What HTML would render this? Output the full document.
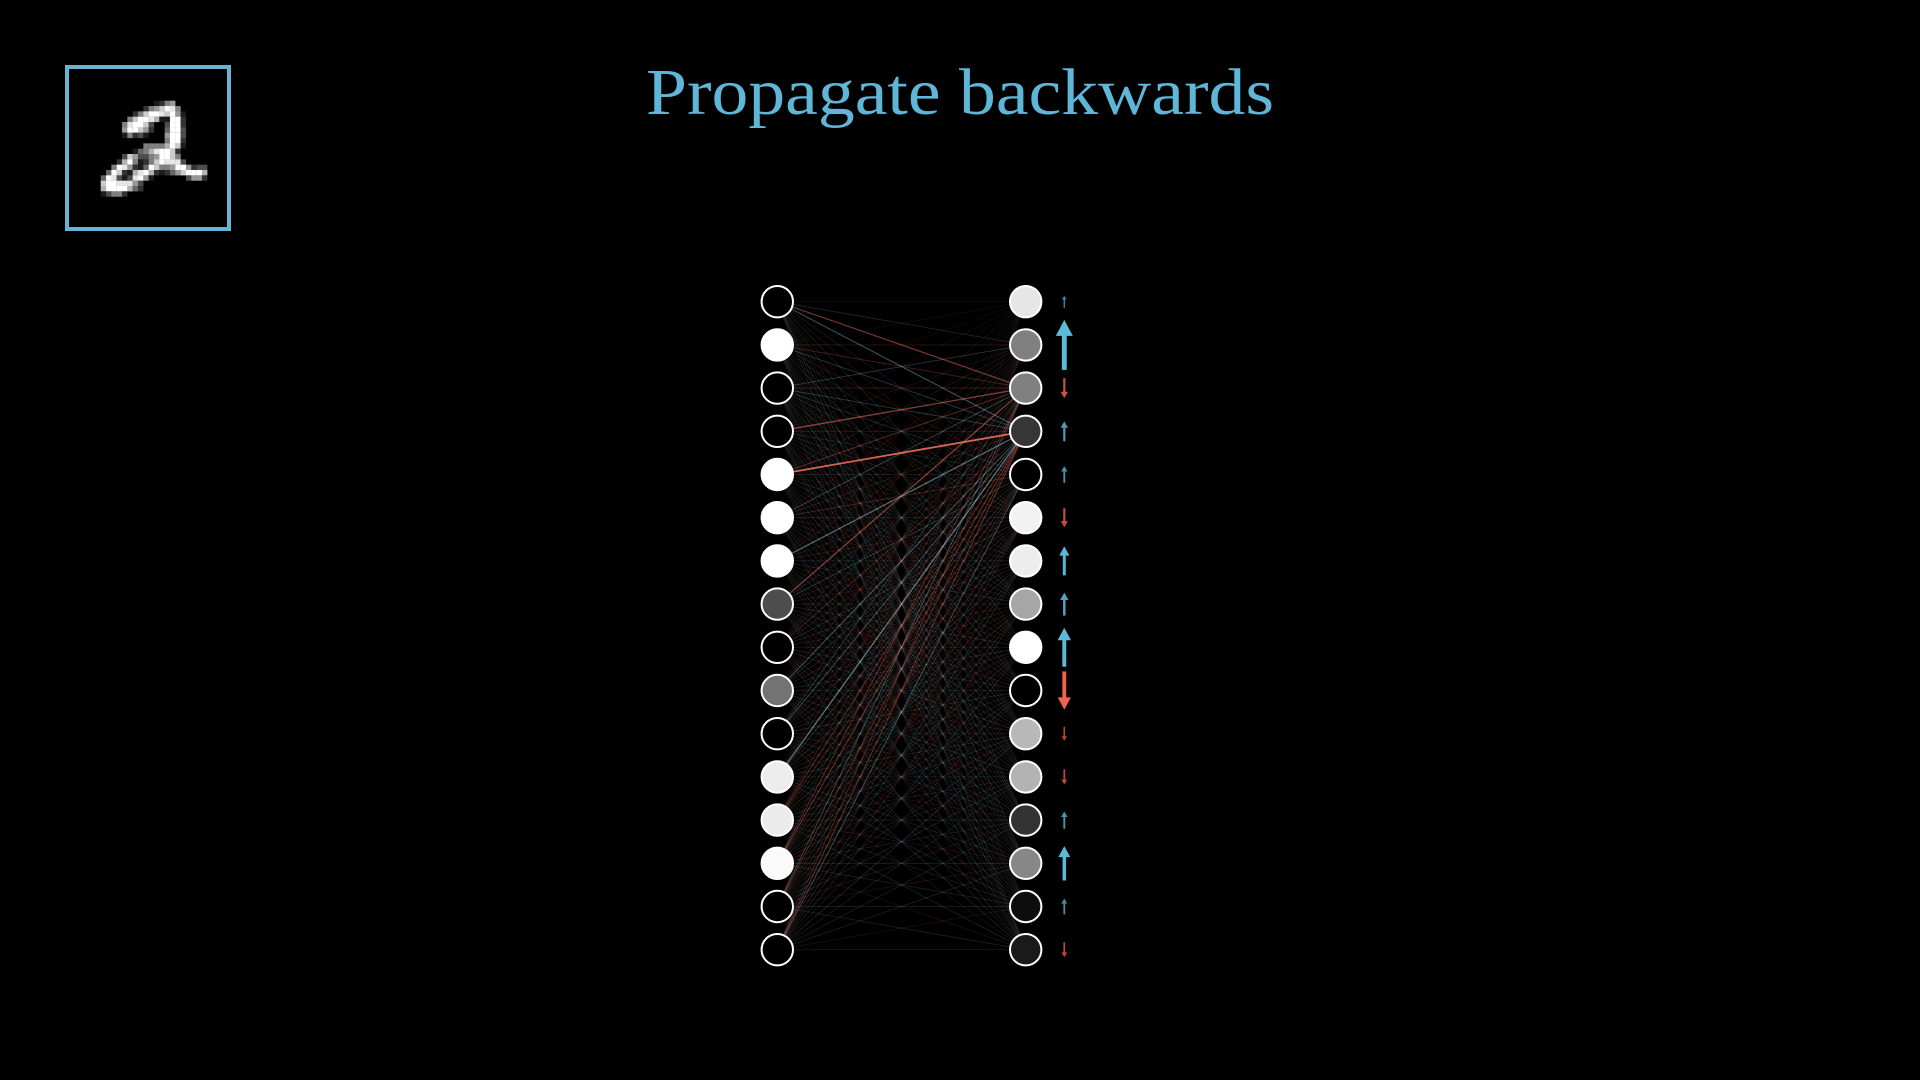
<!DOCTYPE html>
<html lang="en">
<head>
<meta charset="utf-8">
<title>Propagate backwards</title>
<style>
html,body{margin:0;padding:0;background:#000;width:1920px;height:1080px;overflow:hidden}
svg{display:block;position:absolute;left:0;top:0}
</style>
</head>
<body>
<svg id="stage" xmlns="http://www.w3.org/2000/svg" width="1920" height="1080" viewBox="0 0 1920 1080">
  <defs>
    <filter id="soft" x="-5%" y="-5%" width="110%" height="110%"><feGaussianBlur stdDeviation="0.35"/></filter>
  </defs>
  <rect x="0" y="0" width="1920" height="1080" fill="#000"/>
  <text x="646" y="114" font-family="'Liberation Serif', serif" font-size="66" fill="#5fb6d6" textLength="628" lengthAdjust="spacingAndGlyphs">Propagate backwards</text>
  <g id="digit" filter="url(#soft)"></g>
  <rect x="67" y="67" width="162" height="162" fill="none" stroke="#67b3d1" stroke-width="4"/>
  <g id="edges"></g>
  <g id="leftNodes"></g>
  <g id="rightNodes"></g>
  <g id="arrows"></g>
</svg>
<script>
// Neuron activations (0 = black, 1 = white)
const leftActivations = [0, 1, 0, 0, 1, 1, 1, 0.3, 0, 0.45, 0, 0.93, 0.92, 0.98, 0, 0];
const rightActivations = [0.9, 0.5, 0.5, 0.21, 0, 0.95, 0.93, 0.65, 1, 0, 0.72, 0.7, 0.2, 0.53, 0.05, 0.1];
// Desired nudge per right-layer neuron (positive = up/blue, negative = down/red)
const gradients = [12, 50, -20, 20, 16.7, -19, 29, 23, 39, -38.3, -14, -15.3, 17.3, 34.3, 15.7, -15];
// Connection weights in percent: one row per left neuron, one column per right neuron
const weights = [
  [-2, 14, -45, 34, 8, -9, 9, -7, 10, -8, 6, -9, 10, 12, -6, 8],
  [2, -14, -22, 20, -11, 9, -9, 12, -7, 9, -12, 8, 10, -9, 7, 9],
  [-2, 20, -18, 22, 16, 11, -11, 12, -9, 14, 10, -8, 12, 9, -7, 10],
  [2, -8, -52, -14, 12, -14, 9, 10, -12, -9, 14, 8, -10, 11, 9, -6],
  [-2, 7, -30, -88, 13, -9, 12, 10, -8, -13, 9, 12, -9, 10, -7, 8],
  [3, -9, 26, -14, -24, 12, -10, -13, 9, 11, -10, 9, 12, -8, 9, 11],
  [-2, 7, -12, 46, -12, -14, 11, 12, -10, -9, 13, -11, 9, 12, -9, 8],
  [2, -9, -50, 12, 20, -11, -13, 10, 12, -14, 9, 11, -10, 9, 12, -8],
  [-2, 8, 12, -24, -12, 14, 11, -12, -10, 11, 13, -9, 12, 10, -8, 11],
  [2, -7, -14, 34, 14, -11, -14, 9, 12, 10, -12, 13, 9, -11, 10, 9],
  [-2, 9, 20, 30, -14, 12, -11, -12, 10, 13, 9, -12, 11, 9, -10, 12],
  [2, -9, -14, 52, 18, -10, 13, -11, -12, 9, 12, 10, -9, 12, 11, -8],
  [-2, -8, -18, -32, -24, 13, -12, 14, -10, -11, 12, 9, 12, -10, 9, 11],
  [2, 9, -30, -36, 14, -20, 12, -11, 13, 10, -13, -10, 9, 12, 11, -9],
  [-2, -9, 28, -30, -18, 14, -15, 12, -10, 12, 9, 11, -12, -9, 12, 10],
  [2, 8, -24, -34, 30, -14, 12, -15, 11, -10, 13, 9, 10, 11, -9, 8]
];
// 20×18 crop of the handwritten digit; each character is brightness in tenths (a = full)
const digitRows = [
  "00000000001256000000",
  "000000002568a9500000",
  "000000258aa98a610000",
  "0000058aa9711aa20000",
  "000059aa83003aa20000",
  "00006aa862004aa30000",
  "0000152310006aa30000",
  "0000000000005aa20000",
  "0000000055557a810000",
  "00000014579aa8200000",
  "00003863356aa8500000",
  "00027a51258a99930000",
  "005a96214a8556aa6233",
  "04a82179a7212468aaa7",
  "4a93139a610000003662",
  "8aa99963000000000000",
  "7aaaa742000000000000",
  "13552000000000000000"
];

const SVG_NS = "http://www.w3.org/2000/svg";
const leftX = 777.3, rightX = 1025.7, topY = 301.7, stepY = 43.2, nodeR = 15.7, arrowX = 1064.3;
const digitX = 100.7, digitY = 100.7, digitPitch = 5.33;

function nodeY(i) { return topY + i * stepY; }
function grey(a) { const v = Math.round(a * 255); return "rgb(" + v + "," + v + "," + v + ")"; }

const digitGroup = document.getElementById("digit");
digitRows.forEach(function (row, r) {
  row.split("").forEach(function (ch, c) {
    const v = parseInt(ch, 36) / 10;
    if (!v) return;
    const px = document.createElementNS(SVG_NS, "rect");
    px.setAttribute("x", digitX + c * digitPitch);
    px.setAttribute("y", digitY + r * digitPitch);
    px.setAttribute("width", digitPitch + 0.1);
    px.setAttribute("height", digitPitch + 0.1);
    px.setAttribute("fill", grey(v));
    
    
    digitGroup.appendChild(px);
  });
});

const edgeGroup = document.getElementById("edges");
const edgeList = [];
weights.forEach(function (row, l) {
  row.forEach(function (w, r) {
    edgeList.push({ l: l, r: r, w: w });
  });
});
edgeList.sort(function (a, b) { return Math.abs(a.w) - Math.abs(b.w); });
edgeList.forEach(function (e) {
  const mag = Math.abs(e.w) / 100;
  const line = document.createElementNS(SVG_NS, "line");
  line.setAttribute("x1", leftX);
  line.setAttribute("y1", nodeY(e.l));
  line.setAttribute("x2", rightX);
  line.setAttribute("y2", nodeY(e.r));
  line.setAttribute("stroke", e.w > 0 ? "#a4d2de" : "#f0705f");
  line.setAttribute("stroke-opacity", Math.min(1, mag * 0.95 + 0.06));
  line.setAttribute("stroke-width", 0.65 + mag * 1.3);
  
  
  edgeGroup.appendChild(line);
});

function drawNodes(groupId, cx, values, prefix) {
  const group = document.getElementById(groupId);
  values.forEach(function (a, i) {
    const c = document.createElementNS(SVG_NS, "circle");
    c.setAttribute("cx", cx);
    c.setAttribute("cy", nodeY(i));
    c.setAttribute("r", nodeR);
    c.setAttribute("fill", grey(a));
    c.setAttribute("stroke", "#fff");
    c.setAttribute("stroke-width", 2);
    
    
    group.appendChild(c);
  });
}
drawNodes("leftNodes", leftX, leftActivations, "left");
drawNodes("rightNodes", rightX, rightActivations, "right");

const arrowGroup = document.getElementById("arrows");
gradients.forEach(function (g, i) {
  const len = Math.abs(g), dir = g > 0 ? -1 : 1;
  const cy = nodeY(i);
  const tail = cy - dir * len / 2, tip = cy + dir * len / 2;
  const headH = len * 0.32, headW = len * 0.32 + 1, shaft = len * 0.09 + 0.4;
  const neck = tip - dir * headH;
  const x = arrowX;
  const pts = [
    [x - shaft / 2, tail], [x + shaft / 2, tail], [x + shaft / 2, neck], [x + headW / 2, neck],
    [x, tip], [x - headW / 2, neck], [x - shaft / 2, neck]
  ].map(function (p) { return p[0] + "," + p[1]; }).join(" ");
  const arrow = document.createElementNS(SVG_NS, "polygon");
  arrow.setAttribute("points", pts);
  arrow.setAttribute("fill", g > 0 ? "#5cb9d8" : "#f4614f");
  arrow.setAttribute("fill-opacity", Math.min(1, 0.5 + len / 60));
  
  
  arrowGroup.appendChild(arrow);
});
</script>
</body>
</html>
